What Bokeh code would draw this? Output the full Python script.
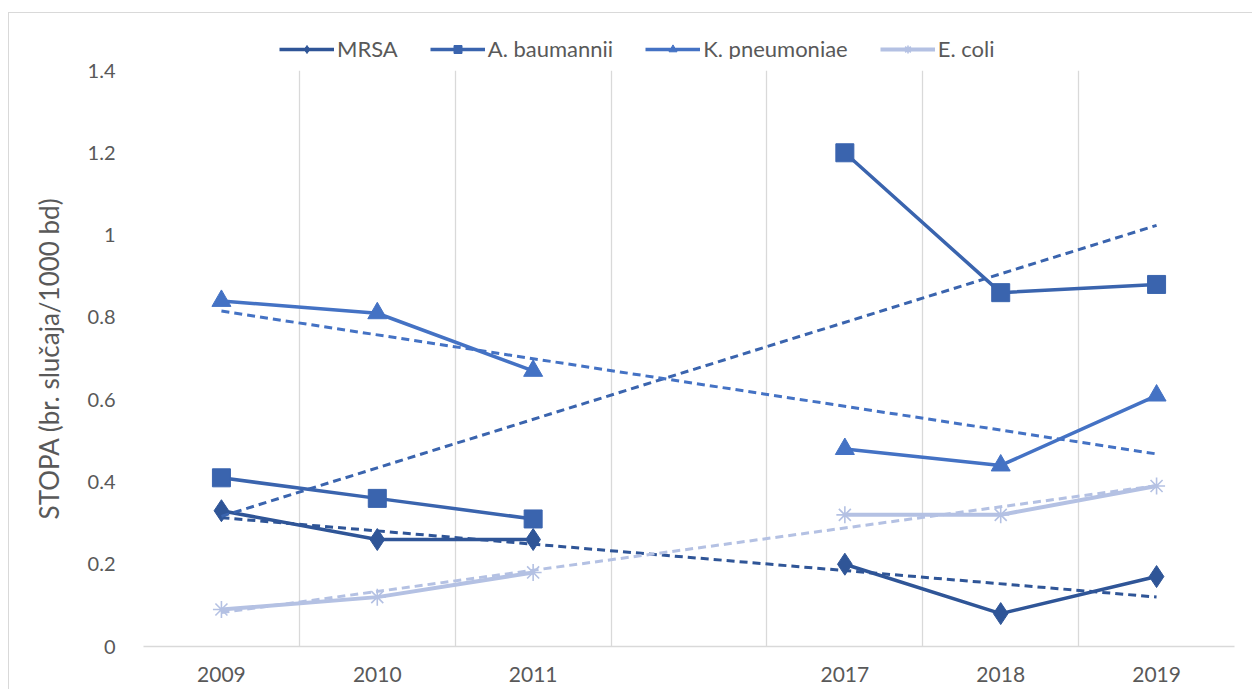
import numpy as np
from bokeh.plotting import figure
from bokeh.layouts import column
from bokeh.models import FixedTicker, Legend, LegendItem, Range1d, NumeralTickFormatter
from bokeh.embed import file_html
from bokeh.resources import INLINE

# ---- data ----
years = ["2009", "2010", "2011", "", "2017", "2018", "2019"]
mrsa = [0.33, 0.26, 0.26, None, 0.20, 0.08, 0.17]
a_baumannii = [0.41, 0.36, 0.31, None, 1.20, 0.86, 0.88]
k_pneumoniae = [0.84, 0.81, 0.67, None, 0.48, 0.44, 0.61]
e_coli = [0.09, 0.12, 0.18, None, 0.32, 0.32, 0.39]
series_names = ["MRSA", "A. baumannii", "K. pneumoniae", "E. coli"]
y_ticks = [0, 0.2, 0.4, 0.6, 0.8, 1, 1.2, 1.4]

colors = ["#2F5597", "#3A64AE", "#4472C4", "#B4C1E3"]
markers = ["diamond", "square", "triangle", "asterisk"]
msizes = [22, 18, 19, 17]
lwidths = [3.5, 3.5, 3.5, 4.0]

FONT = "Lato"
GRAY = "#595959"
W = 1243

x = np.arange(1, len(years) + 1, dtype=float)

# ---- main plot ----
p = figure(width=W, height=630, output_backend="svg", toolbar_location=None,
           x_range=Range1d(0.5, len(years) + 0.5), y_range=Range1d(0, 1.4),
           min_border_left=134, min_border_right=18, min_border_top=11,
           min_border_bottom=43)
p.outline_line_color = None
p.background_fill_color = "white"

p.ygrid.grid_line_color = None
p.xgrid.ticker = FixedTicker(ticks=[i + 0.5 for i in range(0, len(years) + 1)])
p.xgrid.grid_line_color = "#d9d9d9"
p.xgrid.grid_line_width = 1.3

label_ticks = [float(i + 1) for i, yv in enumerate(years) if yv]
p.xaxis.ticker = FixedTicker(ticks=label_ticks)
p.xaxis.major_label_overrides = {float(i + 1): yv for i, yv in enumerate(years) if yv}
p.xaxis.axis_line_color = "#d9d9d9"
p.xaxis.axis_line_width = 1.3
p.xaxis.major_tick_line_color = None
p.xaxis.minor_tick_line_color = None
p.xaxis.major_label_text_font = FONT
p.xaxis.major_label_text_font_size = "21px"
p.xaxis.major_label_text_color = GRAY
p.xaxis.major_label_standoff = 14

p.yaxis.ticker = FixedTicker(ticks=y_ticks)
p.yaxis.formatter = NumeralTickFormatter(format="0.[0]")
p.yaxis.axis_line_color = None
p.yaxis.major_tick_line_color = None
p.yaxis.minor_tick_line_color = None
p.yaxis.major_label_text_font = FONT
p.yaxis.major_label_text_font_size = "20px"
p.yaxis.major_label_text_color = GRAY
p.yaxis.major_label_standoff = 22
p.yaxis.axis_label = "STOPA (br. slučaja/1000 bd)"
p.yaxis.axis_label_text_font = FONT
p.yaxis.axis_label_text_font_size = "26px"
p.yaxis.axis_label_text_font_style = "normal"
p.yaxis.axis_label_text_color = GRAY
p.yaxis.axis_label_standoff = 20

# ---- legend strip (its own series copies sit outside its visible range) ----
lg = figure(width=W, height=46, output_backend="svg", toolbar_location=None,
            x_range=Range1d(100, 101), y_range=Range1d(0, 1.4),
            x_axis_type=None, y_axis_type=None, min_border=0)
lg.outline_line_color = None
lg.xgrid.visible = False
lg.ygrid.visible = False

items = []
for name, vals, c, m, ms, lw in zip(series_names, [mrsa, a_baumannii, k_pneumoniae, e_coli],
                                     colors, markers, msizes, lwidths):
    y = np.array([np.nan if v is None else v for v in vals], dtype=float)
    ok = ~np.isnan(y)
    # linear trendline (least squares over the category positions)
    slope, icpt = np.polyfit(x[ok], y[ok], 1)
    tx = np.array([x[0], x[-1]])
    p.line(tx, slope * tx + icpt, line_color=c, line_width=3, line_dash="8 5")
    p.line(x, y, line_color=c, line_width=lw)
    if m == "asterisk":
        p.scatter(x[ok], y[ok], marker=m, size=ms, line_color=c, line_width=1.6)
    else:
        p.scatter(x[ok], y[ok], marker=m, size=ms, fill_color=c, line_color=c)
    l_line = lg.line(x[ok], y[ok], line_color=c, line_width=lw)
    if m == "asterisk":
        l_mark = lg.scatter(x[ok], y[ok], marker=m, size=ms - 2, line_color=c, line_width=1.6)
    else:
        l_mark = lg.scatter(x[ok], y[ok], marker=m, size=ms - 2, fill_color=c, line_color=c)
    items.append(LegendItem(label=name, renderers=[l_line, l_mark]))

legend = Legend(items=items, orientation="horizontal", location=(136, -3),
                label_text_font=FONT, label_text_font_size="22px", label_text_color=GRAY,
                glyph_width=55, spacing=32, label_standoff=3, padding=8,
                border_line_color=None)
lg.add_layout(legend, "center")

layout = column(lg, p, spacing=0,
                styles={"border-top": "1px solid #d9d9d9", "border-left": "1px solid #d9d9d9",
                        "margin-top": "12px", "margin-left": "8px"})

open("out.html", "w").write(file_html(layout, INLINE))
